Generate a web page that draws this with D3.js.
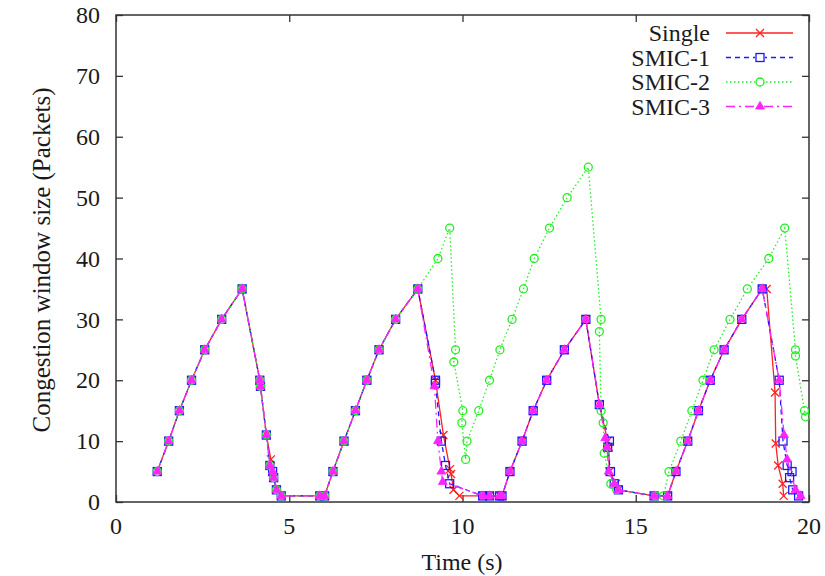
<!DOCTYPE html>
<html>
<head>
<meta charset="utf-8">
<script src="https://cdn.jsdelivr.net/npm/d3@7"></script>
<style>
  html, body { margin: 0; padding: 0; background: #fff; }
  svg { display: block; }
  text { font-family: "Liberation Serif", "DejaVu Serif", serif; fill: #1a1a1a; }
</style>
</head>
<body>
<svg id="chart" width="825" height="576"></svg>
<script>
// Congestion window traces, time in seconds, window in packets
const singleT = [1.19, 1.52, 1.83, 2.18, 2.56, 3.05, 3.64, 4.15, 4.17, 4.34, 4.47, 4.55, 4.63, 4.77, 5.88, 6.02,
  6.26, 6.58, 6.91, 7.24, 7.59, 8.07, 8.71, 9.22, 9.45, 9.64, 9.67, 9.74, 9.91, 10.58, 10.78, 11.07, 11.14,
  11.37, 11.72, 12.04, 12.43, 12.94, 13.56, 13.95, 14.19, 14.22, 14.24, 14.43, 14.5, 15.53, 15.92,
  16.16, 16.5, 16.81, 17.15, 17.55, 18.06, 18.65, 18.78, 19.02, 19.04, 19.11, 19.24, 19.27];
const singleW = [5, 10, 15, 20, 25, 30, 35, 20, 19, 11, 7, 4, 2, 1, 1, 1,
  5, 10, 15, 20, 25, 30, 35, 20, 11, 5.4, 4.6, 2, 1, 1, 1, 1, 1,
  5, 10, 15, 20, 25, 30, 16, 10, 9, 5, 3, 2, 1, 1,
  5, 10, 15, 20, 25, 30, 35, 35, 18, 9.6, 6, 3, 1];

const smic1T = [1.19, 1.52, 1.83, 2.18, 2.56, 3.05, 3.64, 4.15, 4.17, 4.34, 4.44, 4.52, 4.55, 4.63, 4.77, 5.88, 6.02,
  6.26, 6.58, 6.91, 7.24, 7.59, 8.07, 8.71, 9.22, 9.22, 9.39, 9.51, 9.63, 10.58, 10.78, 11.07, 11.14,
  11.37, 11.72, 12.04, 12.43, 12.94, 13.56, 13.95, 14.24, 14.19, 14.27, 14.38, 14.5, 15.53, 15.92,
  16.16, 16.5, 16.81, 17.15, 17.55, 18.06, 18.65, 19.14, 19.25, 19.37, 19.51, 19.44, 19.53, 19.7];
const smic1W = [5, 10, 15, 20, 25, 30, 35, 20, 19, 11, 6, 5, 4, 2, 1, 1, 1,
  5, 10, 15, 20, 25, 30, 35, 20, 19.5, 10, 6, 3, 1, 1, 1, 1,
  5, 10, 15, 20, 25, 30, 16, 10, 9, 5, 3, 2, 1, 1,
  5, 10, 15, 20, 25, 30, 35, 20, 10, 6, 5, 4, 2, 1];

const smic2T = [1.19, 1.52, 1.83, 2.18, 2.56, 3.05, 3.64, 4.15, 4.17, 4.34, 4.44, 4.55, 4.63, 4.77, 5.88, 6.02,
  6.26, 6.58, 6.91, 7.24, 7.59, 8.07, 8.71, 9.29, 9.63, 9.8, 9.75, 10.01, 9.98, 10.09, 10.13,
  10.47, 10.78, 11.08, 11.43, 11.76, 12.07, 12.51, 13.02, 13.63, 14.0, 13.95, 14.0, 14.06, 14.09, 14.28, 14.45,
  15.58, 15.8, 15.96, 16.3, 16.62, 16.94, 17.26, 17.72, 18.22, 18.84, 19.3, 19.61, 19.61, 19.87, 19.9];
const smic2W = [5, 10, 15, 20, 25, 30, 35, 20, 19, 11, 6, 4, 2, 1, 1, 1,
  5, 10, 15, 20, 25, 30, 35, 40, 45, 25, 23, 15, 13, 7, 10,
  15, 20, 25, 30, 35, 40, 45, 50, 55, 30, 28, 15, 13, 8, 3, 2,
  1, 1, 5, 10, 15, 20, 25, 30, 35, 40, 45, 25, 24, 15, 14];

const smic3T = [1.19, 1.52, 1.83, 2.18, 2.56, 3.05, 3.64, 4.15, 4.17, 4.34, 4.44, 4.52, 4.55, 4.63, 4.77, 5.88, 6.02,
  6.26, 6.58, 6.91, 7.24, 7.59, 8.07, 8.71, 9.19, 9.29, 9.39, 9.43, 10.6, 10.78, 11.07, 11.14,
  11.37, 11.72, 12.04, 12.43, 12.94, 13.56, 13.95, 14.12, 14.17, 14.22, 14.38, 14.5, 15.53, 15.92,
  16.16, 16.5, 16.81, 17.15, 17.55, 18.06, 18.65, 19.14, 19.28, 19.37, 19.61, 19.76];
const smic3W = [5, 10, 15, 20, 25, 30, 35, 20, 19, 11, 6, 5, 4, 2, 1, 1, 1,
  5, 10, 15, 20, 25, 30, 35, 19, 10, 5, 3.3, 1, 1, 1, 1,
  5, 10, 15, 20, 25, 30, 16, 10.5, 9, 5, 3, 2, 1, 1,
  5, 10, 15, 20, 25, 30, 35, 20, 11, 7, 2, 1];

const seriesNames = ["Single", "SMIC-1", "SMIC-2", "SMIC-3"];
const xTicks = [0, 5, 10, 15, 20];
const yTicks = [0, 10, 20, 30, 40, 50, 60, 70, 80];

const series = [
  { name: seriesNames[0], pts: d3.zip(singleT, singleW), color: "#ff2020", dash: null, marker: "cross" },
  { name: seriesNames[1], pts: d3.zip(smic1T, smic1W), color: "#1a1aff", dash: "5,4", marker: "square" },
  { name: seriesNames[2], pts: d3.zip(smic2T, smic2W), color: "#22ee22", dash: "1.5,2.5", marker: "circle" },
  { name: seriesNames[3], pts: d3.zip(smic3T, smic3W), color: "#ff22ff", dash: "9,4,2,4", marker: "triangle" }
];

const svg = d3.select("#chart");
const plotL = 116, plotR = 809, plotT = 15, plotB = 502;
const x = d3.scaleLinear().domain([0, 20]).range([plotL, plotR]);
const y = d3.scaleLinear().domain([0, 80]).range([plotB, plotT]);
const tickLen = 7;
const axisColor = "#333";
const fontSize = 24;

// Frame
svg.append("rect")
  .attr("x", plotL).attr("y", plotT)
  .attr("width", plotR - plotL).attr("height", plotB - plotT)
  .attr("fill", "none").attr("stroke", axisColor).attr("stroke-width", 1.5);

// Inward ticks on all four sides
const axes = svg.append("g");
axes.append("g").attr("transform", `translate(0,${plotB})`)
  .call(d3.axisBottom(x).tickValues(xTicks).tickSize(-tickLen).tickFormat(""))
  .call(g => g.select(".domain").remove());
axes.append("g").attr("transform", `translate(0,${plotT})`)
  .call(d3.axisTop(x).tickValues(xTicks).tickSize(-tickLen).tickFormat(""))
  .call(g => g.select(".domain").remove());
axes.append("g").attr("transform", `translate(${plotL},0)`)
  .call(d3.axisLeft(y).tickValues(yTicks).tickSize(-tickLen).tickFormat(""))
  .call(g => g.select(".domain").remove());
axes.append("g").attr("transform", `translate(${plotR},0)`)
  .call(d3.axisRight(y).tickValues(yTicks).tickSize(-tickLen).tickFormat(""))
  .call(g => g.select(".domain").remove());
axes.selectAll(".tick line").attr("stroke", axisColor).attr("stroke-width", 1.3);

// Tick labels
svg.append("g").selectAll("text").data(xTicks).join("text")
  .attr("x", d => x(d)).attr("y", 534)
  .attr("text-anchor", "middle").attr("font-size", fontSize)
  .text(d => d);
svg.append("g").selectAll("text").data(yTicks).join("text")
  .attr("x", 100).attr("y", d => y(d)).attr("dy", "0.34em")
  .attr("text-anchor", "end").attr("font-size", fontSize)
  .text(d => d);

// Axis titles
svg.append("text")
  .attr("x", 462).attr("y", 570)
  .attr("text-anchor", "middle").attr("font-size", fontSize)
  .text("Time (s)");
svg.append("text")
  .attr("transform", `translate(50,260) rotate(-90)`)
  .attr("text-anchor", "middle").attr("font-size", 25)
  .text("Congestion window size (Packets)");

// Marker shapes
function drawMarker(g, kind, color) {
  const s = 4;
  if (kind === "cross") {
    g.append("path").attr("d", `M${-s},${-s}L${s},${s}M${-s},${s}L${s},${-s}`)
      .attr("stroke", color).attr("stroke-width", 1.3).attr("fill", "none");
  } else if (kind === "square") {
    g.append("rect").attr("x", -s).attr("y", -s).attr("width", 2 * s).attr("height", 2 * s)
      .attr("stroke", color).attr("stroke-width", 1.3).attr("fill", "none");
  } else if (kind === "circle") {
    g.append("circle").attr("r", s)
      .attr("stroke", color).attr("stroke-width", 1.3).attr("fill", "none");
  } else if (kind === "triangle") {
    g.append("path").attr("d", d3.symbol(d3.symbolTriangle, 34)())
      .attr("fill", color).attr("stroke", color).attr("stroke-width", 0.8);
  }
}

const line = d3.line().x(d => x(d[0])).y(d => y(d[1]));
const plot = svg.append("g");
series.forEach(s => {
  const g = plot.append("g");
  g.append("path").datum(s.pts)
    .attr("d", line).attr("fill", "none")
    .attr("stroke", s.color).attr("stroke-width", 1.3)
    .attr("stroke-dasharray", s.dash);
  g.selectAll("g.pt").data(s.pts).join("g")
    .attr("class", "pt")
    .attr("transform", d => `translate(${x(d[0])},${y(d[1])})`)
    .each(function () { drawMarker(d3.select(this), s.marker, s.color); });
});

// Legend
const legend = svg.append("g");
series.forEach((s, i) => {
  const ly = 33 + i * 24.5;
  legend.append("text").attr("x", 710).attr("y", ly).attr("dy", "0.34em")
    .attr("text-anchor", "end").attr("font-size", fontSize).text(s.name);
  legend.append("line").attr("x1", 726).attr("x2", 793).attr("y1", ly).attr("y2", ly)
    .attr("stroke", s.color).attr("stroke-width", 1.3).attr("stroke-dasharray", s.dash);
  const m = legend.append("g").attr("transform", `translate(760,${ly})`);
  if (s.marker !== "triangle" && s.marker !== "cross") {
    m.append("rect").attr("x", -5).attr("y", -5).attr("width", 10).attr("height", 10).attr("fill", "#fff");
  }
  drawMarker(m, s.marker, s.color);
});
</script>
</body>
</html>
